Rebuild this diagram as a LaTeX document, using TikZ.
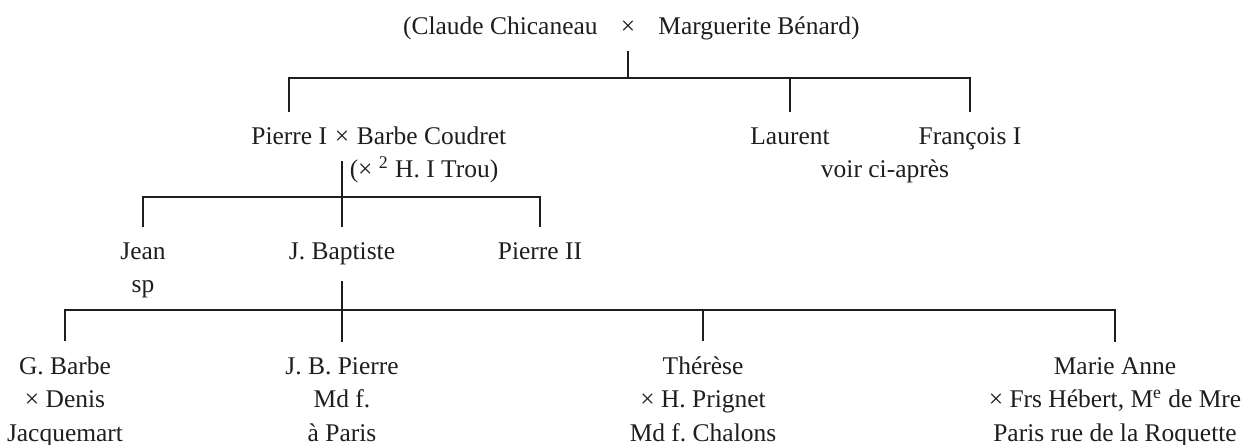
\documentclass[tikz,border=0pt]{standalone}
\usepackage{fontspec}
\setmainfont{Liberation Serif}
\usepackage{tikz}
\usetikzlibrary{positioning}
\frenchspacing
\definecolor{InkBlack}{RGB}{30,30,30}
\tikzset{
    personnode/.style={inner xsep=0pt, inner ysep=0.31cm, align=center, anchor=base, text=InkBlack, font=\fontsize{14.5}{18.8}\selectfont},
    famline/.style={draw=InkBlack, line width=0.9pt}
}

\begin{document}
\begin{tikzpicture}[x=0.02cm, y=-0.02cm]
    \useasboundingbox (0,0) rectangle (1257,445);
    % Couple racine
    \node[personnode] (rx) at (628,35) {×};
    \node[personnode, base left=0.45cm of rx] (claude) {(Claude Chicaneau};
    \node[personnode, base right=0.45cm of rx] (marg) {Marguerite Bénard)};
    \coordinate (b1) at (628,78);
    \draw[famline] (rx.south) -- (b1);
    % Enfants
    \node[personnode] (px) at (342,145) {×};
    \node[personnode, base left=0.14cm of px] (p1) {Pierre I};
    \node[personnode, base right=0.14cm of px] (bc) {Barbe Coudret};
    \node[personnode] (trou) at (424,178) {(× \textsuperscript{2} H. I Trou)};
    \node[personnode] (lau) at (790,145) {Laurent};
    \node[personnode] (fr1) at (970,145) {François I};
    \node[personnode] (voir) at (885,178) {voir ci-après};
    \draw[famline] (p1.north) |- (b1) -| (fr1.north);
    \draw[famline] (lau.north |- b1) -- (lau.north);
    % Petits-enfants (base = derniere ligne)
    \coordinate (b2) at (342,197);
    \draw[famline] (px.south) -- (b2);
    \node[personnode] (jean) at (143,293) {Jean\\sp};
    \node[personnode] (jb) at (342,260) {J. Baptiste};
    \node[personnode] (p2) at (540,260) {Pierre II};
    \draw[famline] (jean.north) |- (b2) -| (p2.north);
    \draw[famline] (b2) -- (jb.north);
    % Enfants de J. Baptiste
    \coordinate (b3) at (342,310);
    \draw[famline] (jb.south) -- (b3);
    \node[personnode] (gb) at (65,441) {G. Barbe\\× Denis\\Jacquemart};
    \node[personnode] (jbp) at (342,441) {J. B. Pierre\\Md f.\\à Paris};
    \node[personnode] (th) at (703,441) {Thérèse\\× H. Prignet\\Md f. Chalons};
    \node[personnode] (ma) at (1115,441) {Marie Anne\\× Frs Hébert, M\textsuperscript{e} de Mre\\Paris rue de la Roquette};
    \draw[famline] (gb.north) |- (b3) -| (ma.north);
    \draw[famline] (b3) -- (jbp.north);
    \draw[famline] (th.north |- b3) -- (th.north);
\end{tikzpicture}
\end{document}
